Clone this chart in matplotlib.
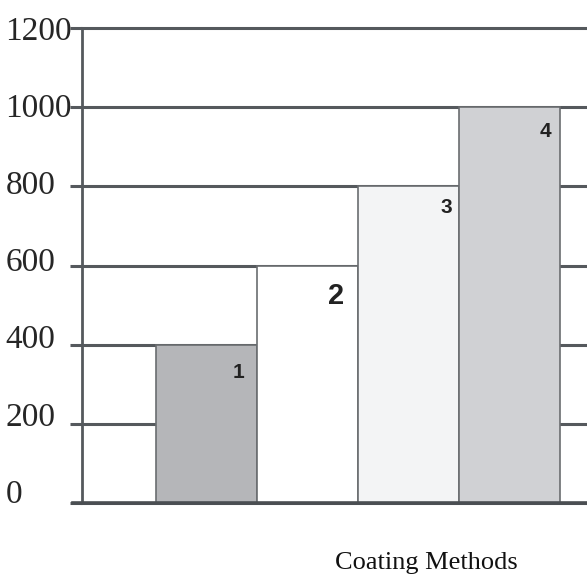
import matplotlib.pyplot as plt
import matplotlib.transforms as mtransforms


methods = [1, 2, 3, 4]
values = [400, 600, 800, 1000]
bar_labels = ["1", "2", "3", "4"]
bar_colors = ["#b5b6b9", "#ffffff", "#f3f4f5", "#d0d1d4"]
yticks = [0, 200, 400, 600, 800, 1000, 1200]

# label offsets from each bar's top-right corner (pixels)
label_offsets = [(-19, -28), (-22, -30), (-13, -21), (-15, -24)]
label_sizes = [15, 21, 15, 15]

grid_color = "#55595d"

fig = plt.figure(figsize=(5.87, 5.76), dpi=100)
ax = fig.add_axes([82 / 587, 73 / 576, 1 - 82 / 587, 475 / 576])

ax.set_axisbelow(True)
ax.yaxis.grid(True, color=grid_color, linewidth=2.2)

bars = ax.bar(methods, values, width=1.0, color=bar_colors,
              edgecolor="#6a6d70", linewidth=1.2, zorder=2)

for rect, text, (dx, dy), size in zip(bars, bar_labels, label_offsets, label_sizes):
    ax.annotate(text, (rect.get_x() + rect.get_width(), rect.get_height()),
                xytext=(dx, dy), textcoords="offset pixels",
                ha="center", va="center", fontsize=size, fontweight="bold",
                family="Liberation Sans", color="#222222", zorder=3)

ax.set_xlim(0.5 - 74 / 101, 0.5 + 431 / 101)
ax.set_ylim(0, 1200)
ax.set_xticks([])
ax.set_yticks(yticks)
ax.set_yticklabels([str(t) for t in yticks], family="Liberation Serif",
                   fontsize=24, color="#262626")

ax.tick_params(axis="y", length=9, width=2.2, color=grid_color, pad=46)
for t, lbl in zip(yticks, ax.get_yticklabels()):
    # labels in the original drift slightly upward toward the bottom
    shift = 12 * (1 - t / 1200) / 100
    offset = mtransforms.ScaledTranslation(0, shift, fig.dpi_scale_trans)
    lbl.set_horizontalalignment("left")
    lbl.set_transform(lbl.get_transform() + offset)

for gl in ax.get_ygridlines():
    gl.set_clip_on(False)

for side in ["top", "right"]:
    ax.spines[side].set_visible(False)
ax.spines["left"].set_color(grid_color)
ax.spines["left"].set_linewidth(2.0)
ax.spines["bottom"].set_color("#4a4e52")
ax.spines["bottom"].set_linewidth(2.6)
ax.spines["bottom"].set_bounds(0.5 - 83 / 101, 0.5 + 431 / 101)
ax.spines["bottom"].set_zorder(4)

fig.text(426 / 587, 1 - 563 / 576, "Coating Methods", family="Liberation Serif",
         fontsize=19, ha="center", va="center", color="#111111")

fig.savefig("out.png", dpi=100)
